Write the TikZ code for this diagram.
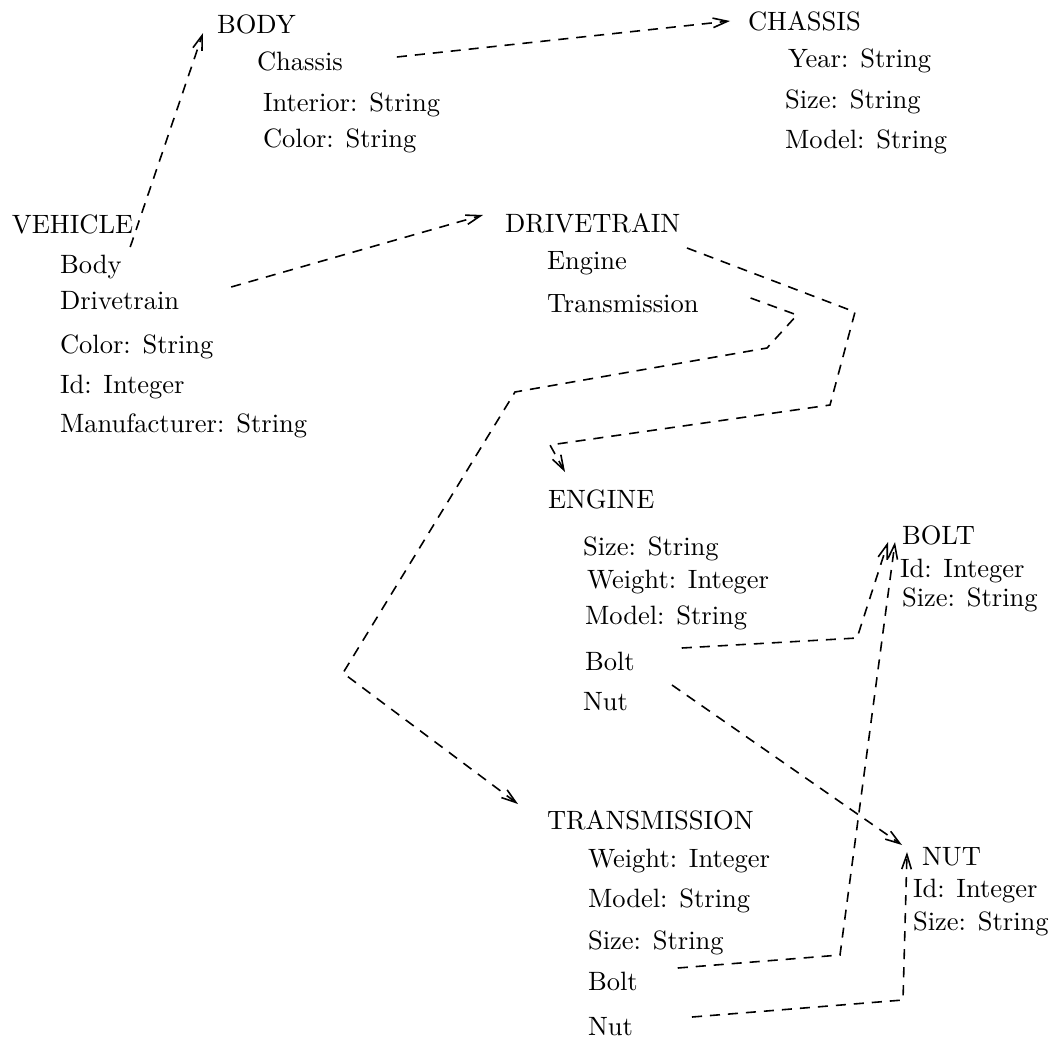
\documentclass[tikz,border=0pt]{standalone}
\usetikzlibrary{arrows.meta,calc}
\begin{document}
\begin{tikzpicture}[x=0.377pt,y=-0.377pt,
  lbl/.style={anchor=base west,inner sep=0pt,outer sep=0pt,font=\fontsize{10}{12}\selectfont},
  link/.style={line width=0.6pt,dash pattern=on 3.8pt off 3pt,
    -{Straight Barb[length=5.5pt,width=3.6pt]}}]
\fill[white] (0,0) rectangle (1054,1041);
\useasboundingbox (0,0) rectangle (1054,1041);

% VEHICLE
\node[lbl] (vehicle) at (12,233) {VEHICLE};
\node[lbl] (vbody)   at (60,273) {Body};
\node[lbl] (vdrive)  at (60,309) {Drivetrain};
\node[lbl] (vcolor)  at (60,353) {Color: String};
\node[lbl] (vid)     at (60,393) {Id: Integer};
\node[lbl] (vman)    at (60,432) {Manufacturer: String};

% BODY
\node[lbl] (body)    at (217,33) {BODY};
\node[lbl] (bchas)   at (257,70) {Chassis};
\node[lbl] (binter)  at (263,111) {Interior: String};
\node[lbl] (bcolor)  at (263,147) {Color: String};

% CHASSIS
\node[lbl] (chassis) at (748,30) {CHASSIS};
\node[lbl] (cyear)   at (788,67) {Year: String};
\node[lbl] (csize)   at (785,108) {Size: String};
\node[lbl] (cmodel)  at (785,148) {Model: String};

% DRIVETRAIN
\node[lbl] (drive)   at (505,232) {DRIVETRAIN};
\node[lbl] (dengine) at (547,269) {Engine};
\node[lbl] (dtrans)  at (547,312) {Transmission};

% ENGINE
\node[lbl] (engine)  at (548,508) {ENGINE};
\node[lbl] (esize)   at (583,555) {Size: String};
\node[lbl] (eweight) at (587,588) {Weight: Integer};
\node[lbl] (emodel)  at (585,624) {Model: String};
\node[lbl] (ebolt)   at (585,670) {Bolt};
\node[lbl] (enut)    at (583,710) {Nut};

% TRANSMISSION
\node[lbl] (trans)   at (547,829) {TRANSMISSION};
\node[lbl] (tweight) at (588,867) {Weight: Integer};
\node[lbl] (tmodel)  at (588,907) {Model: String};
\node[lbl] (tsize)   at (588,949) {Size: String};
\node[lbl] (tbolt)   at (588,990) {Bolt};
\node[lbl] (tnut)    at (588,1035) {Nut};

% BOLT
\node[lbl] (bolt)    at (902,544) {BOLT};
\node[lbl] (bid)     at (900,577) {Id: Integer};
\node[lbl] (bsize)   at (902,606) {Size: String};

% NUT
\node[lbl] (nut)     at (922,865) {NUT};
\node[lbl] (nid)     at (913,897) {Id: Integer};
\node[lbl] (nsize)   at (913,930) {Size: String};

% references
\draw[link] ($(vehicle.base east)+(-3,14)$) -- ($(body.base west)+(-14,0)$);
\draw[link] ($(bchas.base east)+(54,-13)$) -- ($(chassis.base west)+(-18,-9)$);
\draw[link] ($(vdrive.base east)+(52,-22)$) -- ($(drive.base west)+(-22,-17)$);
\draw[link] ($(dengine.base east)+(60,-21)$) -- (855,312) -- (830,405) -- (550,445)
  -- ($(engine.base west)+(17,-36)$);
\draw[link] ($(dtrans.base east)+(52,-14)$) -- (797,315) -- (767,348) -- (515,392)
  -- (343,673) -- ($(trans.base west)+(-29,-25)$);
\draw[link] ($(ebolt.base east)+(47,-22)$) -- (857,638) -- ($(bolt.base west)+(-14,-2)$);
\draw[link] ($(enut.base east)+(44,-25)$) -- ($(nut.base west)+(-20,-20)$);
\draw[link] ($(tbolt.base east)+(40,-22)$) -- (840,955) -- ($(bolt.base west)+(-7,-2)$);
\draw[link] ($(tnut.base east)+(59,-18)$) -- (903,1000) -- ($(nut.base west)+(-15,-13)$);
\end{tikzpicture}
\end{document}
